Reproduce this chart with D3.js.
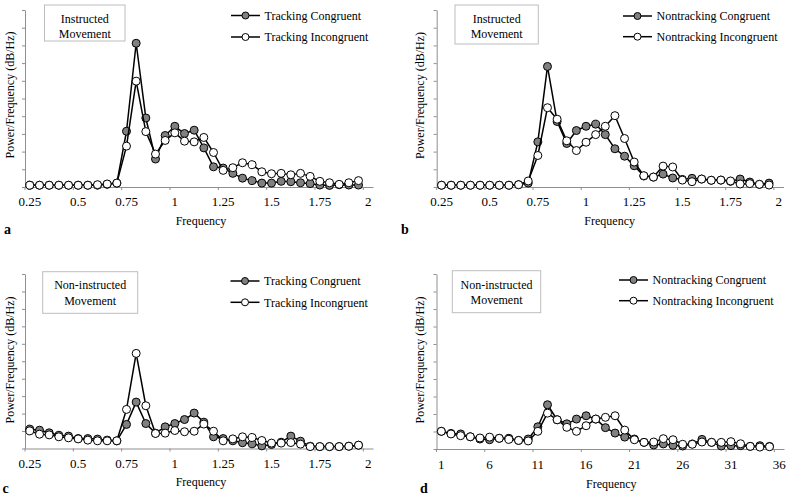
<!DOCTYPE html>
<html><head><meta charset="utf-8">
<script src="https://cdn.jsdelivr.net/npm/d3@7"></script>
<style>
body{margin:0;background:#fff}
svg{display:block}
text{font-family:"Liberation Serif","Times New Roman",serif;fill:#000}
</style>
</head><body>
<svg id="chart" width="790" height="497"></svg>
<script>
// ---- categories & tick labels ----
const hzCategories = ["0.25","0.3","0.35","0.4","0.45","0.5","0.55","0.6","0.65","0.7","0.75","0.8","0.85","0.9","0.95","1","1.05","1.1","1.15","1.2","1.25","1.3","1.35","1.4","1.45","1.5","1.55","1.6","1.65","1.7","1.75","1.8","1.85","1.9","1.95","2"];
const hzTickLabels = ["0.25","0.5","0.75","1","1.25","1.5","1.75","2"];
const binCategories = ["1","2","3","4","5","6","7","8","9","10","11","12","13","14","15","16","17","18","19","20","21","22","23","24","25","26","27","28","29","30","31","32","33","34","35","36"];
const binTickLabels = ["1","6","11","16","21","26","31","36"];

// ---- series values (in y-gridline units, 0..10) ----
const aCongruent   = [0.1,0.1,0.1,0.1,0.1,0.1,0.1,0.1,0.15,0.22,3.15,8.12,3.9,1.58,2.91,3.43,3.02,3.21,2.21,1.14,1.07,0.77,0.5,0.36,0.22,0.22,0.32,0.3,0.24,0.19,0.11,0.09,0.13,0.11,0.11];
const aIncongruent = [0.1,0.1,0.1,0.1,0.1,0.1,0.1,0.13,0.17,0.22,2.31,5.98,3.13,1.86,2.63,3.06,2.59,2.55,2.8,1.95,0.94,1.09,1.37,1.26,0.86,0.75,0.77,0.69,0.77,0.6,0.32,0.24,0.15,0.24,0.36];
const bCongruent   = [0.1,0.1,0.1,0.1,0.1,0.1,0.1,0.1,0.13,0.22,2.55,6.81,3.7,2.46,3.19,3.43,3.55,2.96,2.16,1.74,1.2,0.62,0.56,0.73,0.51,0.43,0.49,0.45,0.38,0.39,0.32,0.45,0.28,0.15,0.22];
const bIncongruent = [0.1,0.1,0.1,0.1,0.1,0.1,0.1,0.1,0.13,0.34,1.78,4.48,3.83,2.61,2.06,2.53,2.96,3.43,4.03,2.74,1.41,0.64,0.56,1.18,1.13,0.39,0.3,0.45,0.38,0.39,0.34,0.17,0.19,0.15,0.11];
const cCongruent   = [1.11,1.05,0.9,0.76,0.71,0.57,0.57,0.54,0.48,0.44,1.38,2.66,1.43,0.88,1.24,1.43,1.66,2.03,1.51,0.67,0.57,0.44,0.33,0.27,0.15,0.23,0.36,0.71,0.42,0.13,0.11,0.11,0.11,0.13,0.19];
const cIncongruent = [1.01,0.82,0.78,0.67,0.61,0.55,0.48,0.44,0.44,0.44,2.24,5.45,2.45,0.86,0.88,1.03,0.96,0.99,1.4,0.99,0.44,0.55,0.67,0.63,0.46,0.31,0.31,0.34,0.25,0.11,0.11,0.11,0.11,0.13,0.19];
const dCongruent   = [1.01,0.89,0.86,0.7,0.57,0.53,0.61,0.61,0.49,0.57,1.27,2.53,1.67,1.44,1.71,1.9,1.71,1.22,0.91,0.68,0.57,0.38,0.23,0.29,0.21,0.17,0.29,0.55,0.38,0.17,0.19,0.19,0.15,0.19,0.15];
const dIncongruent = [1.01,0.86,0.76,0.7,0.63,0.68,0.61,0.55,0.49,0.46,1.01,2.05,1.67,1.24,1.01,1.33,1.71,1.81,1.9,1.08,0.53,0.38,0.4,0.59,0.53,0.27,0.27,0.4,0.38,0.38,0.42,0.3,0.15,0.11,0.13];

const seriesNames = {
  tracking: ["Tracking Congruent","Tracking Incongruent"],
  nontracking: ["Nontracking Congruent","Nontracking Incongruent"]
};
const boxTexts = {
  instructed: ["Instructed","Movement"],
  noninstructed: ["Non-instructed","Movement"]
};
const yTickCount = 10;

// ---- layout (positions / styles only) ----
const panels = [
  {letter:"a", cats:hzCategories, ticks:hzTickLabels, cong:aCongruent, incong:aIncongruent, names:seriesNames.tracking, box:boxTexts.instructed,
   x0:25, x1:373, yTop:10, yBase:187, leg:{x:231, y:15.5, gap:21.5}, boxR:{x:44.5,y:5,w:80.5,h:36}, boxT:[23,37.5],
   yl:{x:10,y:95}, xl:{x:201,y:224.5}, lt:{x:4,y:234}, tly:206},
  {letter:"b", cats:hzCategories, ticks:hzTickLabels, cong:bCongruent, incong:bIncongruent, names:seriesNames.nontracking, box:boxTexts.instructed,
   x0:436.7, x1:783.5, yTop:10, yBase:187, leg:{x:623, y:16, gap:20.7}, boxR:{x:455,y:5,w:83.3,h:39}, boxT:[22.5,37.5],
   yl:{x:420,y:95.5}, xl:{x:609.7,y:224.5}, lt:{x:401,y:234}, tly:206},
  {letter:"c", cats:hzCategories, ticks:hzTickLabels, cong:cCongruent, incong:cIncongruent, names:seriesNames.tracking, box:boxTexts.noninstructed,
   x0:25, x1:373, yTop:274, yBase:448.5, leg:{x:230.5, y:281, gap:21.3}, boxR:{x:42.7,y:271.7,w:95,h:41.6}, boxT:[289.2,304.8],
   yl:{x:10,y:360}, xl:{x:201,y:486}, lt:{x:2.5,y:493}, tly:467.5},
  {letter:"d", cats:binCategories, ticks:binTickLabels, cong:dCongruent, incong:dIncongruent, names:seriesNames.nontracking, box:boxTexts.noninstructed,
   x0:436.5, x1:784, yTop:274, yBase:449, leg:{x:619, y:280, gap:20.7}, boxR:{x:452.3,y:270.7,w:88.4,h:42}, boxT:[288.5,304.2],
   yl:{x:420,y:360}, xl:{x:611.3,y:487.5}, lt:{x:420,y:493}, tly:469}
];

const svg = d3.select("#chart");
const axisColor = "#8f8f8f";
const grayFill = "#808080";
const R = 4;

panels.forEach(p => {
  const g = svg.append("g");
  const x = d3.scaleBand().domain(p.cats).range([p.x0, p.x1]).paddingInner(0).paddingOuter(0);
  const bw = x.bandwidth();
  const cx = c => x(c) + bw / 2;
  const y = d3.scaleLinear().domain([0, yTickCount]).range([p.yBase, p.yTop]);

  // y axis
  const ya = g.append("g").attr("transform", `translate(${p.x0},0)`)
    .call(d3.axisLeft(y).ticks(yTickCount).tickFormat("").tickSizeInner(3).tickSizeOuter(0));
  ya.select(".domain").attr("stroke", axisColor).attr("stroke-width", 1);
  ya.selectAll(".tick line").attr("stroke", axisColor);

  // x axis
  const xa = g.append("g").attr("transform", `translate(0,${p.yBase})`)
    .call(d3.axisBottom(x).tickValues(p.ticks).tickSizeInner(0).tickSizeOuter(0));
  xa.select(".domain").attr("stroke", axisColor).attr("stroke-width", 1);
  xa.selectAll(".tick line").remove();
  xa.selectAll(".tick").append("line")
    .attr("x1", -bw / 2).attr("x2", -bw / 2).attr("y1", 0).attr("y2", 3)
    .attr("stroke", axisColor);
  xa.selectAll(".tick text")
    .attr("y", p.tly - p.yBase).attr("dy", 0)
    .attr("font-size", 13).attr("font-family", '"Liberation Serif","Times New Roman",serif')
    .attr("fill", "#000");

  // series
  const drawSeries = (vals, fill) => {
    const pts = vals.map((v, i) => [cx(p.cats[i]), y(v)]);
    g.append("path").attr("d", d3.line()(pts))
      .attr("fill", "none").attr("stroke", "#000").attr("stroke-width", 1.5)
      .attr("stroke-linejoin", "round");
    g.selectAll(null).data(pts).enter().append("circle")
      .attr("cx", d => d[0]).attr("cy", d => d[1]).attr("r", R)
      .attr("fill", fill).attr("stroke", "#000").attr("stroke-width", 1);
  };
  drawSeries(p.cong, grayFill);
  drawSeries(p.incong, "#fff");

  // legend
  [grayFill, "#fff"].forEach((f, k) => {
    const ly = p.leg.y + k * p.leg.gap;
    g.append("line").attr("x1", p.leg.x).attr("x2", p.leg.x + 29).attr("y1", ly).attr("y2", ly)
      .attr("stroke", "#000").attr("stroke-width", 1.5);
    g.append("circle").attr("cx", p.leg.x + 14.5).attr("cy", ly).attr("r", 3.5)
      .attr("fill", f).attr("stroke", "#000").attr("stroke-width", 1);
    g.append("text").attr("x", p.leg.x + 33.5).attr("y", ly + 4.2)
      .attr("font-size", 12).text(p.names[k]);
  });

  // label box
  g.append("rect").attr("x", p.boxR.x).attr("y", p.boxR.y).attr("width", p.boxR.w).attr("height", p.boxR.h)
    .attr("fill", "#fff").attr("stroke", "#bdbdbd").attr("stroke-width", 1);
  p.box.forEach((t, k) => {
    g.append("text").attr("x", p.boxR.x + p.boxR.w / 2).attr("y", p.boxT[k])
      .attr("text-anchor", "middle").attr("font-size", 12).text(t);
  });

  // axis titles
  g.append("text").attr("transform", `translate(${p.yl.x},${p.yl.y}) rotate(-90)`)
    .attr("text-anchor", "middle").attr("dominant-baseline", "central")
    .attr("font-size", 12).text("Power/Frequency (dB/Hz)");
  g.append("text").attr("x", p.xl.x).attr("y", p.xl.y).attr("text-anchor", "middle")
    .attr("font-size", 12).text("Frequency");
  g.append("text").attr("x", p.lt.x).attr("y", p.lt.y)
    .attr("font-size", 14).attr("font-weight", "bold").text(p.letter);
});
</script>
</body></html>
